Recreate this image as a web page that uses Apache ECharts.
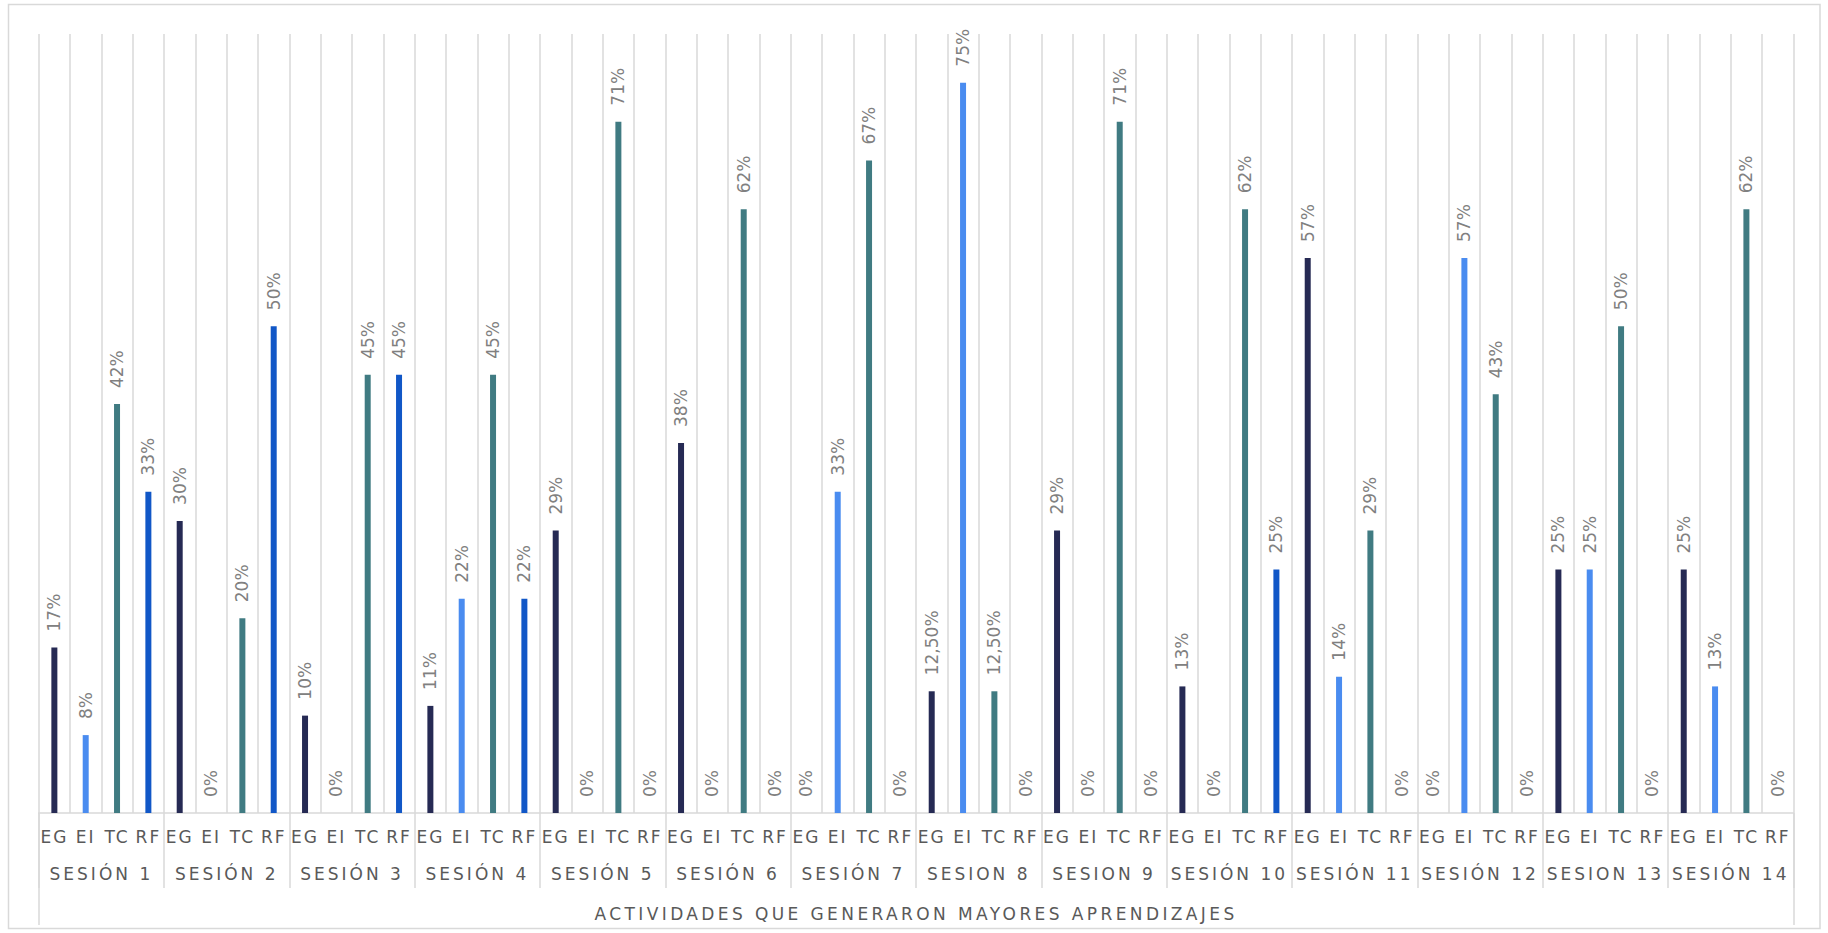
<!DOCTYPE html>
<html>
<head>
<meta charset="utf-8">
<script src="https://cdn.jsdelivr.net/npm/echarts@6/dist/echarts.min.js"></script>
<style>
html,body{margin:0;padding:0;background:#fff;}
#chart{width:1828px;height:933px;}
</style>
</head>
<body>
<div id="chart"></div>
<script>
// ---- data ----
const sessions = ['SESIÓN 1','SESIÓN 2','SESIÓN 3','SESIÓN 4','SESIÓN 5','SESIÓN 6','SESIÓN 7','SESION 8','SESION 9','SESIÓN 10','SESIÓN 11','SESIÓN 12','SESION 13','SESIÓN 14'];
const activities = ['EG','EI','TC','RF'];
const axisTitle = 'ACTIVIDADES QUE GENERARON MAYORES APRENDIZAJES';
const EG = [17, 30, 10, 11, 29, 38, 0, 12.5, 29, 13, 57, 0, 25, 25];
const EI = [8, 0, 0, 22, 0, 0, 33, 75, 0, 0, 14, 57, 25, 13];
const TC = [42, 20, 45, 45, 71, 62, 67, 12.5, 71, 62, 29, 43, 50, 62];
const RF = [33, 50, 45, 22, 0, 0, 0, 0, 0, 25, 0, 0, 0, 0];

const colors = ['#262a54', '#4a8cf0', '#407b82', '#1157c7'];
const seriesValues = [EG, EI, TC, RF];

const categories = [];
const barData = [];
sessions.forEach((s, i) => {
  activities.forEach((a, j) => {
    categories.push(a);
    barData.push({ value: seriesValues[j][i], itemStyle: { color: colors[j] } });
  });
});

const fmt = v => Number.isInteger(v) ? v + '%' : v.toFixed(2).replace('.', ',') + '%';
const font = 'DejaVu Sans';
const grey = '#d9d9d9';

const chart = echarts.init(document.getElementById('chart'), null, { renderer: 'svg' });
chart.setOption({
  animation: false,
  grid: { left: 38.7, right: 34.6, top: 34, bottom: 120 },
  graphic: [{
    type: 'rect', silent: true,
    shape: { x: 8.5, y: 4.5, width: 1811.5, height: 924 },
    style: { fill: 'none', stroke: grey, lineWidth: 1.5 }
  }],
  xAxis: [
    {
      type: 'category', data: categories, position: 'bottom',
      axisLine: { show: true, lineStyle: { color: grey, width: 1.5 } },
      axisTick: { show: false },
      axisLabel: { interval: 0, margin: 15, color: '#595959', fontFamily: font, fontSize: 17 },
      splitLine: { show: true, interval: 0, lineStyle: { color: grey, width: 1.5 } }
    },
    {
      type: 'category', data: sessions, position: 'bottom',
      axisLine: { show: false },
      axisTick: { show: true, interval: 0, length: 75, lineStyle: { color: grey, width: 1.5 } },
      axisLabel: { interval: 0, margin: 52, color: '#595959', fontFamily: font, fontSize: 17 },
      splitLine: { show: false }
    },
    {
      type: 'category', data: [axisTitle], position: 'bottom',
      axisLine: { show: false },
      axisTick: { show: true, interval: 0, length: 112, lineStyle: { color: grey, width: 1.5 } },
      axisLabel: { interval: 0, margin: 92, color: '#595959', fontFamily: font, fontSize: 17 },
      splitLine: { show: false }
    }
  ],
  yAxis: {
    type: 'value', min: 0, max: 80, show: false,
    splitLine: { show: false }
  },
  series: [{
    type: 'bar', xAxisIndex: 0, data: barData, barWidth: 6,
    label: {
      show: true, position: 'top', rotate: 90, align: 'left', verticalAlign: 'middle',
      distance: 16, color: '#808080', fontFamily: font, fontSize: 17,
      formatter: p => fmt(p.value)
    }
  }]
});

// widen the letter spacing of the axis texts, as in the reference
function spaceAxisTexts() {
  const spacing = new Map();
  activities.forEach(a => spacing.set(a, '2px'));
  sessions.forEach(s => spacing.set(s, '3px'));
  spacing.set(axisTitle, '3.4px');
  document.querySelectorAll('#chart svg text').forEach(t => {
    const sp = spacing.get(t.textContent);
    if (sp) t.setAttribute('letter-spacing', sp);
  });
}
spaceAxisTexts();
chart.on('finished', spaceAxisTexts);
</script>
</body>
</html>
